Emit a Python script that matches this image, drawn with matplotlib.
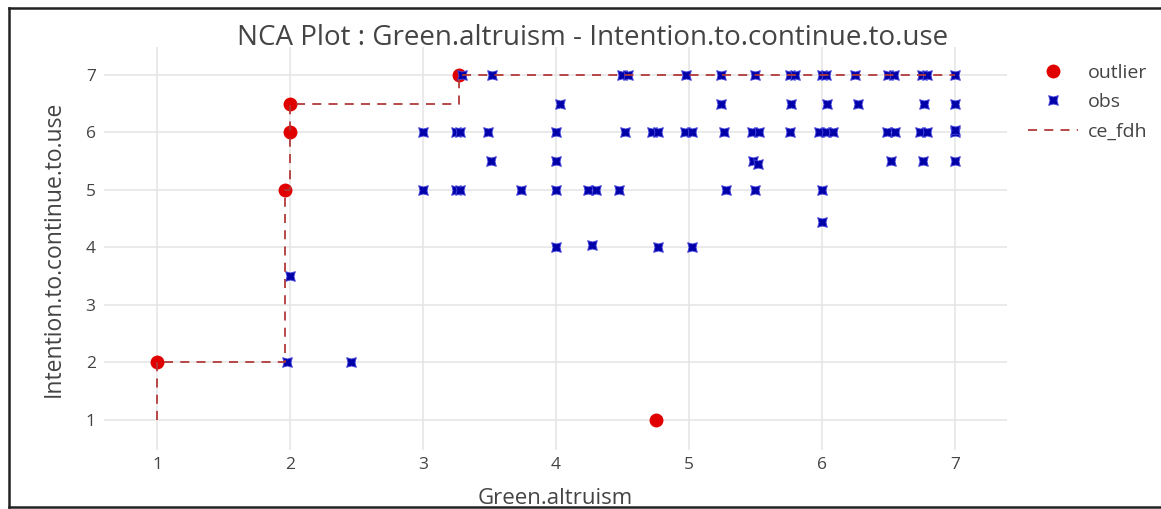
import matplotlib

matplotlib.use("Agg")
import matplotlib.pyplot as plt
import numpy as np
from matplotlib.lines import Line2D
from matplotlib.path import Path

obs_x = [
    3.29, 3.52, 4.50, 4.54, 4.98, 5.24, 5.50, 5.76, 5.80, 6.00, 6.03, 6.25, 6.50, 6.54, 6.75, 6.79, 7.00,
    4.03, 5.24, 5.77, 6.04, 6.27, 6.77, 7.00,
    3.00, 3.25, 3.28, 3.49, 4.00, 4.52, 4.72, 4.77, 4.97, 5.02, 5.26, 5.47, 5.53, 5.76, 5.98, 6.03,
    6.08, 6.49, 6.55, 6.74, 6.79, 7.00, 7.00,
    3.51, 4.00, 5.48, 5.52, 6.52, 6.76, 7.00,
    3.00, 3.25, 3.28, 3.74, 4.00, 4.24, 4.30, 4.47, 5.28, 5.50, 6.00,
    6.00,
    4.00, 4.27, 4.77, 5.02,
    2.00,
    1.98, 2.46,
]
obs_y = [
    7, 7, 7, 7, 7, 7, 7, 7, 7, 7, 7, 7, 7, 7, 7, 7, 7,
    6.5, 6.5, 6.5, 6.5, 6.5, 6.5, 6.5,
    6, 6, 6, 6, 6, 6, 6, 6, 6, 6, 6, 6, 6, 6, 6, 6,
    6, 6, 6, 6, 6, 6, 6.05,
    5.5, 5.5, 5.5, 5.45, 5.5, 5.5, 5.5,
    5, 5, 5, 5, 5, 5, 5, 5, 5, 5, 5,
    4.45,
    4, 4.05, 4, 4,
    3.5,
    2, 2,
]
outlier_x = [1.0, 1.96, 2.0, 2.0, 3.27, 4.75]
outlier_y = [2.0, 5.0, 6.0, 6.5, 7.0, 1.0]
ce_fdh_x = [1.0, 1.0, 1.96, 1.96, 2.0, 2.0, 3.27, 3.27, 7.0]
ce_fdh_y = [1.0, 2.0, 2.0, 5.0, 5.0, 6.5, 6.5, 7.0, 7.0]
ticks = [1, 2, 3, 4, 5, 6, 7]

TEXT = "#444444"
GRID = "#e6e6e6"

plt.rcParams["font.family"] = ["Open Sans", "DejaVu Sans"]

# concave square, like plotly's star-square
verts = [(-1, -1), (0, -0.72), (1, -1), (0.72, 0), (1, 1), (0, 0.72), (-1, 1), (-0.72, 0), (-1, -1)]
star_square = Path(verts, [Path.MOVETO] + [Path.LINETO] * 7 + [Path.CLOSEPOLY])

fig = plt.figure(figsize=(11.61, 5.09), dpi=100)
ax = fig.add_axes([104 / 1161, 1 - 450 / 509, 903 / 1161, 403 / 509])

ax.plot(outlier_x, outlier_y, "o", color="#e00000", markersize=10, markeredgewidth=0,
        label="outlier", zorder=3)
ax.plot(obs_x, obs_y, linestyle="none", marker=star_square, markersize=7,
        markerfacecolor="#0000a8", markeredgecolor="#4a4ae0", markeredgewidth=0.6,
        label="obs", zorder=4)
ax.plot(ce_fdh_x, ce_fdh_y, color="#b03a3a", linewidth=1.3, dashes=(5, 4),
        label="ce_fdh", zorder=5)

ax.set_xlim(0.6015, 7.391)
ax.set_ylim(0.478, 7.487)
ax.set_xticks(ticks)
ax.set_yticks(ticks)
ax.grid(True, color=GRID, linewidth=1.2)
ax.set_axisbelow(True)
for side in ax.spines.values():
    side.set_visible(False)
ax.tick_params(length=0, labelsize=12.5, colors=TEXT)
ax.tick_params(axis="x", pad=5)
ax.tick_params(axis="y", pad=6)

ax.set_xlabel("Green.altruism", fontsize=16, color=TEXT, labelpad=11)
ax.set_ylabel("Intention.to.continue.to.use", fontsize=16.5, color=TEXT, labelpad=14)
fig.text(0.51, 1 - 38 / 509, "NCA Plot : Green.altruism - Intention.to.continue.to.use",
         ha="center", va="center", fontsize=20, color=TEXT)

ax.legend(loc="upper left", bbox_to_anchor=(1010 / 1161, 1 - 46 / 509),
          bbox_transform=fig.transFigure, frameon=False, fontsize=14,
          labelcolor=TEXT, handlelength=2.6, handletextpad=0.5, labelspacing=0.6)

# screenshot frame (top, left, bottom)
for xs, ys in [([9, 1161], [8, 8]), ([9, 9], [8, 507]), ([9, 1161], [507, 507])]:
    fig.add_artist(Line2D(np.array(xs) / 1161, 1 - np.array(ys) / 509,
                          color="#222222", linewidth=1.8, transform=fig.transFigure))

fig.savefig("out.png", dpi=100, facecolor="white")
